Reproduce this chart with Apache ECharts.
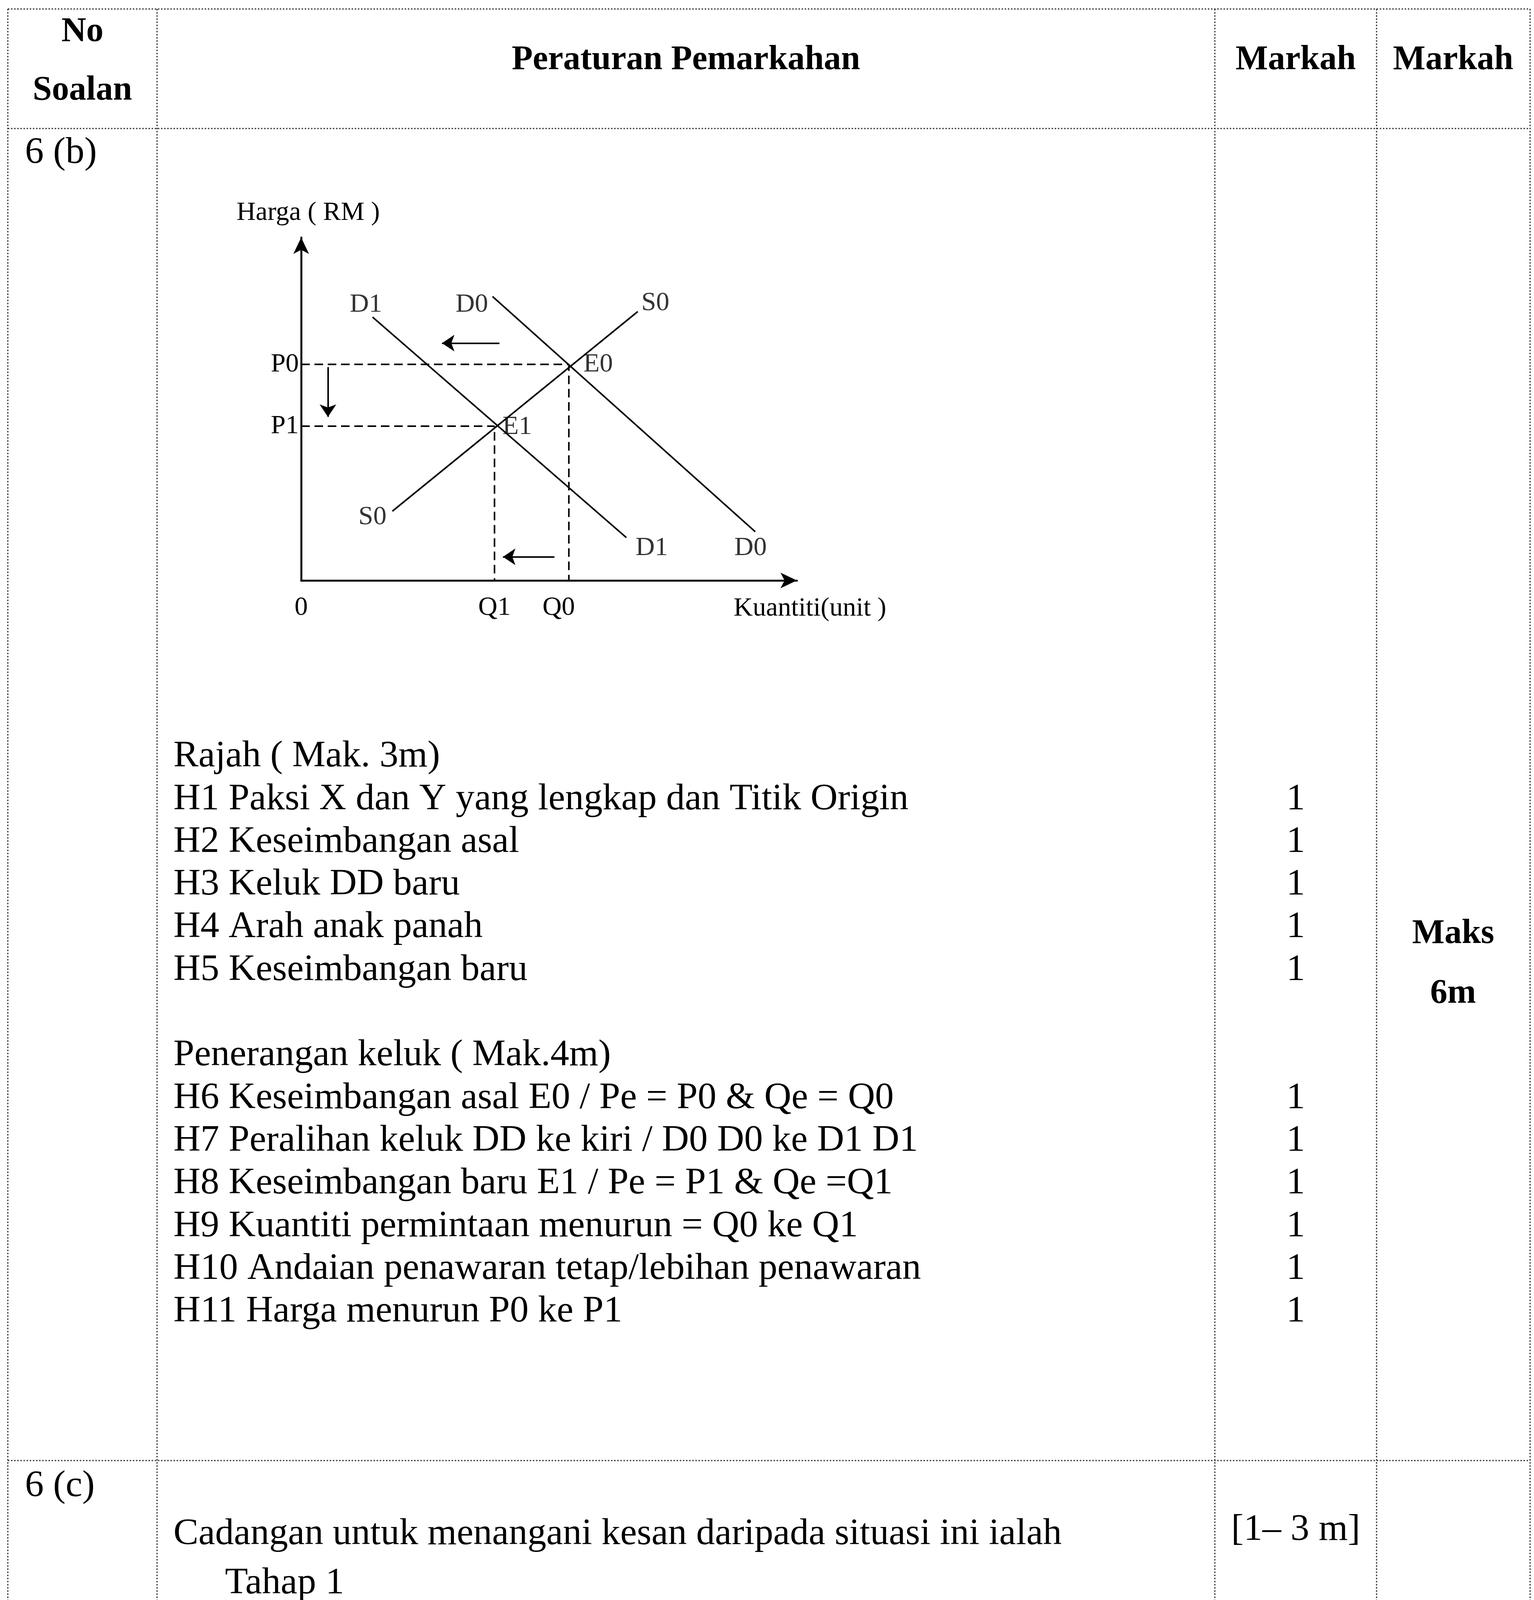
<!DOCTYPE html>
<html><head><meta charset="utf-8">
<script src="https://cdn.jsdelivr.net/npm/echarts@6/dist/echarts.min.js"></script>
<style>html,body{margin:0;padding:0;background:#fff}#c{width:3927px;height:5490px}</style>
</head><body><div id="c"></div>
<script>
// ---- diagram values (axis units 0..100) ----
const Q1 = 39, Q0 = 54, P1 = 45, P0 = 63;
const curveD0 = [[38.6, 82.8], [91.6, 14.2]];
const curveD1 = [[14.4, 76.8], [65.6, 12.5]];
const curveS0 = [[18.4, 20.2], [67.9, 78.4]];
const shiftArrowTop = [[40, 69.2], [28.4, 69.2]];
const shiftArrowBottom = [[51.1, 6.9], [40.7, 6.9]];
const priceArrow = [[5.4, 62.2], [5.4, 47.7]];
const xTickValues = [0, Q1, Q0];
const xTickLabels = ['0', 'Q1', 'Q0'];
const yTickValues = [P1, P0];
const yTickLabels = ['P1', 'P0'];
const yAxisTitle = 'Harga ( RM )';
const xAxisTitle = 'Kuantiti(unit )';

// ---- table texts ----
const headerTexts = ['No', 'Soalan', 'Peraturan Pemarkahan', 'Markah', 'Markah'];
const rowLabels = ['6 (b)', '6 (c)'];
const rajahTitle = 'Rajah ( Mak. 3m)';
const rajahItems = ['H1 Paksi X dan Y yang lengkap dan Titik Origin', 'H2 Keseimbangan asal', 'H3 Keluk DD baru', 'H4 Arah anak panah', 'H5 Keseimbangan baru'];
const rajahMarks = ['1', '1', '1', '1', '1'];
const terangTitle = 'Penerangan keluk ( Mak.4m)';
const terangItems = ['H6 Keseimbangan asal E0 / Pe = P0 & Qe = Q0', 'H7 Peralihan keluk DD ke kiri / D0 D0 ke D1 D1', 'H8 Keseimbangan baru E1 / Pe = P1 & Qe =Q1', 'H9 Kuantiti permintaan menurun = Q0 ke Q1', 'H10 Andaian penawaran tetap/lebihan penawaran', 'H11 Harga menurun P0 ke P1'];
const terangMarks = ['1', '1', '1', '1', '1', '1'];
const maxMarkTexts = ['Maks', '6m'];
const cIntro = 'Cadangan untuk menangani kesan daripada situasi ini ialah';
const tahap1Title = 'Tahap 1';
const tahap1Items = ['Pengetahuan terhad terhadap teori/konsep', 'Menyenaraikan fakta / isi sahaja tanpa huraian', 'Jawapan secara umum'];
const tahap1Mark = '[1\u2013 3 m]';
const tahap2Title = 'Tahap 2';
const tahap2Items = [['Berupaya mengaplikasikan fakta dan konsep dengan betul dan', 'sesuai dengan situasi yang diberikan'], ['Maklumat dijelaskan dengan agak teratur'], ['Idea disampaikan adalah logik dan berkaitan']];
const tahap2Mark = '[4\u2013 6 m]';

const SERIF = '"Liberation Serif", "Times New Roman", serif';
const BODY = 96, HEAD = 88, DIA = 68;

const els = [];
function txt(s, x, y, opt) {
  opt = opt || {};
  els.push({
    type: 'text', x: x, y: y, silent: true, z: 10,
    style: {
      text: s, fill: '#000', fontFamily: SERIF,
      fontSize: opt.size || BODY, fontWeight: opt.bold ? 'bold' : 'normal',
      align: opt.align || 'left', textAlign: opt.align || 'left',
      verticalAlign: 'middle', textVerticalAlign: 'middle'
    }
  });
}
function hline(y, x1, x2) {
  els.push({ type: 'line', silent: true, z: 5, shape: { x1: x1, y1: y, x2: x2, y2: y },
    style: { stroke: '#3a3a3a', lineWidth: 3, lineDash: [4, 4] } });
}
function vline(x, y1, y2) {
  els.push({ type: 'line', silent: true, z: 5, shape: { x1: x, y1: y1, x2: x, y2: y2 },
    style: { stroke: '#3a3a3a', lineWidth: 3, lineDash: [4, 4] } });
}

// table grid
const colX = [20, 402, 3110, 3524, 3917];
const rowY = [23, 329, 3739];
rowY.forEach(y => hline(y, colX[0], colX[4]));
colX.forEach(x => vline(x, rowY[0], 5490));

// header
txt(headerTexts[0], 211, 82, { bold: true, size: HEAD, align: 'center' });
txt(headerTexts[1], 211, 232, { bold: true, size: HEAD, align: 'center' });
txt(headerTexts[2], 1756, 154, { bold: true, size: HEAD, align: 'center' });
txt(headerTexts[3], 3317, 154, { bold: true, size: HEAD, align: 'center' });
txt(headerTexts[4], 3720, 154, { bold: true, size: HEAD, align: 'center' });

// row 6(b)
txt(rowLabels[0], 64, 392);
const bStart = 1937, bStep = 109.3, textX = 444, markX = 3317;
const bLines = [rajahTitle].concat(rajahItems, [''], [terangTitle], terangItems);
const bMarks = [''].concat(rajahMarks, [''], [''], terangMarks);
bLines.forEach((s, i) => { if (s) txt(s, textX, bStart + i * bStep); });
bMarks.forEach((s, i) => { if (s) txt(s, markX, bStart + i * bStep, { align: 'center' }); });
txt(maxMarkTexts[0], 3720, 2391, { bold: true, size: HEAD, align: 'center' });
txt(maxMarkTexts[1], 3720, 2544, { bold: true, size: HEAD, align: 'center' });

// row 6(c)
txt(rowLabels[1], 64, 3805);
const cStart = 3928, cStep = 126.2, tahapX = 576, bulletTextX = 631;
txt(cIntro, textX, cStart);
txt(tahap1Mark, markX, 3917, { align: 'center' });
txt(tahap1Title, tahapX, cStart + cStep * 1);
tahap1Items.forEach((s, i) => {
  const y = cStart + cStep * (2 + i);
  txt('\u2022', tahapX, y);
  txt(s, bulletTextX, y);
});
txt(tahap2Title, tahapX, cStart + cStep * 6);
txt(tahap2Mark, markX, 4796, { align: 'center' });
const mctx = document.createElement('canvas').getContext('2d');
mctx.font = BODY + 'px ' + SERIF;
let li = 7;
tahap2Items.forEach(lines => {
  lines.forEach((s, k) => {
    const y = cStart + cStep * li;
    if (k === 0) txt('\u2022', tahapX, y);
    if (lines.length > 1 && k < lines.length - 1) {
      // justified line
      const words = s.split(' ');
      const x0 = bulletTextX + 6, x1 = 3061;
      const total = words.reduce((a, w) => a + mctx.measureText(w).width, 0);
      const gap = (x1 - x0 - total) / (words.length - 1);
      let x = x0;
      words.forEach(w => { txt(w, x, y); x += mctx.measureText(w).width + gap; });
    } else {
      txt(s, bulletTextX, y);
    }
    li++;
  });
});

// diagram text labels at curve ends
const labelPoints = [
  { name: 'D1', value: curveD1[0], label: { offset: [-17, -32] } },
  { name: 'D1', value: curveD1[1], label: { offset: [65, 27] } },
  { name: 'D0', value: curveD0[0], label: { offset: [-53, 21] } },
  { name: 'D0', value: curveD0[1], label: { offset: [-12, 42] } },
  { name: 'S0', value: curveS0[1], label: { offset: [45, -22] } },
  { name: 'S0', value: curveS0[0], label: { offset: [-51, 15] } },
  { name: 'E0', value: [Q0, P0], label: { offset: [75, 0] } },
  { name: 'E1', value: [Q1, P1], label: { offset: [58, 2] } }
];

const black = '#000';
const chart = echarts.init(document.getElementById('c'), null, { renderer: 'canvas' });
chart.setOption({
  animation: false,
  backgroundColor: '#fff',
  grid: { left: 771, top: 608, width: 1269, height: 878, containLabel: false },
  xAxis: {
    type: 'value', min: 0, max: 100,
    name: xAxisTitle, nameLocation: 'end', nameGap: -162,
    nameTextStyle: { fontFamily: SERIF, fontSize: DIA, color: black, verticalAlign: 'top', align: 'left', padding: [38, 0, 0, 0] },
    axisLine: { show: true, onZero: false, symbol: ['none', 'arrow'], symbolSize: [30, 42], lineStyle: { color: black, width: 5 } },
    axisTick: { show: false }, splitLine: { show: false },
    axisLabel: {
      customValues: xTickValues, margin: 36, fontFamily: SERIF, fontSize: DIA, color: black,
      formatter: v => '{' + (v === Q0 ? 's' : 'n') + '|' + xTickLabels[xTickValues.indexOf(v)] + '}',
      rich: { n: { fontFamily: SERIF, fontSize: DIA, color: black }, s: { fontFamily: SERIF, fontSize: DIA, color: black, padding: [0, 52, 0, 0] } }
    }
  },
  yAxis: {
    type: 'value', min: 0, max: 100,
    name: yAxisTitle, nameLocation: 'end', nameGap: 29,
    nameTextStyle: { fontFamily: SERIF, fontSize: DIA, color: black, padding: [0, 0, 0, 36] },
    axisLine: { show: true, onZero: false, symbol: ['none', 'arrow'], symbolSize: [30, 42], lineStyle: { color: black, width: 5 } },
    axisTick: { show: false }, splitLine: { show: false },
    axisLabel: {
      customValues: yTickValues, margin: 6, fontFamily: SERIF, fontSize: DIA, color: black,
      formatter: v => yTickLabels[yTickValues.indexOf(v)]
    }
  },
  series: [
    { type: 'line', name: 'D0', data: curveD0, symbol: 'none', lineStyle: { color: black, width: 4 }, z: 3 },
    { type: 'line', name: 'D1', data: curveD1, symbol: 'none', lineStyle: { color: black, width: 4 }, z: 3 },
    { type: 'line', name: 'S0', data: curveS0, symbol: 'none', lineStyle: { color: black, width: 4 }, z: 3 },
    { type: 'line', name: 'guide0', data: [[0, P0], [Q0, P0], [Q0, 0]], symbol: 'none', lineStyle: { color: black, width: 4, type: [22, 12] }, z: 2 },
    { type: 'line', name: 'guide1', data: [[0, P1], [Q1, P1], [Q1, 0]], symbol: 'none', lineStyle: { color: black, width: 4, type: [22, 12] }, z: 2 },
    {
      type: 'lines', coordinateSystem: 'cartesian2d', symbol: ['none', 'arrow'], symbolSize: 32,
      lineStyle: { color: black, width: 4, opacity: 1, curveness: 0 },
      data: [{ coords: shiftArrowTop }, { coords: shiftArrowBottom }, { coords: priceArrow }], z: 4
    },
    {
      type: 'scatter', name: 'labels', symbolSize: 0, data: labelPoints, z: 6,
      label: { show: true, position: 'inside', formatter: p => p.name, fontFamily: SERIF, fontSize: DIA, color: black }
    }
  ],
  graphic: { elements: els }
});
</script>
</body></html>
